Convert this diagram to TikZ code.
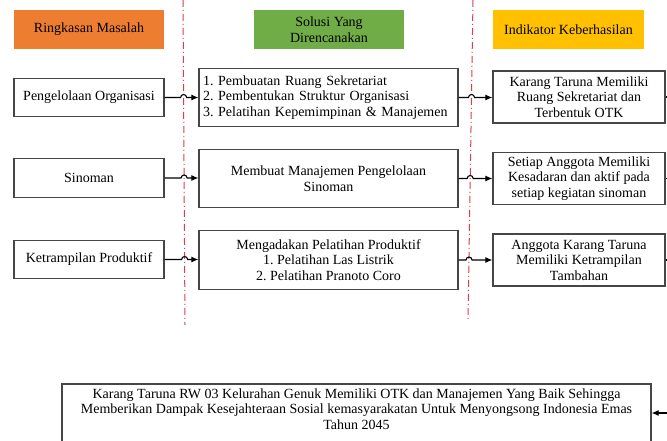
\documentclass[tikz,border=0pt]{standalone}
\usepackage{fontspec}
\setmainfont{Liberation Serif}
\newfontfamily\diagserif{Liberation Serif}
\usetikzlibrary{arrows.meta,calc}
\definecolor{hOrange}{RGB}{237,125,49}
\definecolor{hGreen}{RGB}{112,173,71}
\definecolor{hGold}{RGB}{255,192,0}
\definecolor{redline}{RGB}{226,60,72}
\definecolor{boxline}{RGB}{70,70,70}
\frenchspacing
\begin{document}
\begin{tikzpicture}[x=1pt,y=-1pt,
  txt/.style={font=\diagserif\fontsize{14}{15.5}\selectfont, text=black},
  head/.style={txt, rectangle, minimum width=150pt, minimum height=39pt, inner sep=2pt, align=center},
  probbox/.style={txt, rectangle, draw=boxline, line width=1.2pt, minimum width=150pt, minimum height=38.5pt, inner sep=2pt, align=center},
  solbox/.style={txt, rectangle, draw=boxline, line width=1.2pt, minimum width=259pt, minimum height=58.5pt, inner sep=2pt, align=center},
  indbox/.style={txt, rectangle, draw=boxline, line width=1.2pt, minimum width=172pt, minimum height=52pt, inner sep=2pt, align=center},
  divider/.style={draw=redline, line width=1pt, dash pattern=on 7pt off 3pt on 1pt off 3pt},
  conn/.style={draw=black, line width=1.1pt},
  arr/.style={conn, -{Latex[length=7pt,width=6pt]}}
]
\clip (0,0) rectangle (667,441);
\fill[white] (0,0) rectangle (667,441);

% dividers
\coordinate (d1t) at (183,0);
\coordinate (d1b) at (185,325);
\coordinate (d2t) at (473,0);
\coordinate (d2b) at (468,320);
\draw[divider] (d1t) -- (d1b);
\draw[divider] (d2t) -- (d2b);

% headers
\node[head, fill=hOrange] (h1) at (89,29.5) {Ringkasan Masalah};
\node[head, fill=hGreen] (h2) at (329,29.5) {Solusi Yang\\Direncanakan};
\node[head, fill=hGold, minimum width=151pt] (h3) at (568.5,29.5) {Indikator Keberhasilan};

% problems
\node[probbox] (p1) at (89,97.5) {Pengelolaan Organisasi};
\node[probbox] (p2) at (89,178) {Sinoman};
\node[probbox] (p3) at (89,259.5) {Ketrampilan Produktif};

% solutions
\node[solbox, text width=251pt, inner xsep=4pt, align=left] (s1) at (328.5,97.5)
  {1. Pembuatan Ruang Sekretariat\\2. Pembentukan Struktur Organisasi\\3. Pelatihan Kepemimpinan \& Manajemen};
\node[solbox] (s2) at (328.5,178.5) {Membuat Manajemen Pengelolaan\\Sinoman};
\node[solbox] (s3) at (328.5,260) {Mengadakan Pelatihan Produktif\\1. Pelatihan Las Listrik\\2. Pelatihan Pranoto Coro};

% indicators
\node[indbox] (i1) at (579,97) {Karang Taruna Memiliki\\Ruang Sekretariat dan\\Terbentuk OTK};
\node[indbox] (i2) at (579,178.5) {Setiap Anggota Memiliki\\Kesadaran dan aktif pada\\setiap kegiatan sinoman};
\node[indbox] (i3) at (579,260) {Anggota Karang Taruna\\Memiliki Ketrampilan\\Tambahan};

% bottom box
\node[rectangle, draw=boxline, line width=1.2pt, minimum width=589pt, minimum height=70pt, inner sep=0pt] (b) at (356.5,419) {};
\node[txt, align=center, inner sep=0pt] (bt) at (356.5,409)
  {Karang Taruna RW 03 Kelurahan Genuk Memiliki OTK dan Manajemen Yang Baik Sehingga\\Memberikan Dampak Kesejahteraan Sosial kemasyarakatan Untuk Menyongsong Indonesia Emas\\Tahun 2045};

% hop coordinates
\coordinate (a1) at (180.6,97.5);
\coordinate (a2) at (181.1,178);
\coordinate (a3) at (181.6,259.5);
\coordinate (c1) at (468.5,97.5);
\coordinate (c2) at (467.2,178.5);
\coordinate (c3) at (466,260);

% connectors problem -> solution
\draw[arr] (p1.east) -- (a1) arc[start angle=180,end angle=0,radius=3pt] -- (s1.west);
\draw[arr] (p2.east) -- (a2) arc[start angle=180,end angle=0,radius=3pt] -- (s2.west |- a2);
\draw[arr] (p3.east) -- (a3) arc[start angle=180,end angle=0,radius=3pt] -- (s3.west |- a3);

% connectors solution -> indicator
\draw[arr] (s1.east) -- (c1) arc[start angle=180,end angle=0,radius=3pt] -- (i1.west |- c1);
\draw[arr] (s2.east) -- (c2) arc[start angle=180,end angle=0,radius=3pt] -- (i2.west |- c2);
\draw[arr] (s3.east) -- (c3) arc[start angle=180,end angle=0,radius=3pt] -- (i3.west |- c3);

% indicator -> right edge
\coordinate (e1) at (667,97);
\coordinate (e2) at (667,178.5);
\coordinate (e3) at (667,260);
\coordinate (e4) at (667,413);
\draw[conn] (i1.east) -- (e1);
\draw[conn] (i2.east) -- (e2);
\draw[conn] (i3.east) -- (e3);
\draw[arr] (e4) -- (b.east |- e4);
\end{tikzpicture}
\end{document}
